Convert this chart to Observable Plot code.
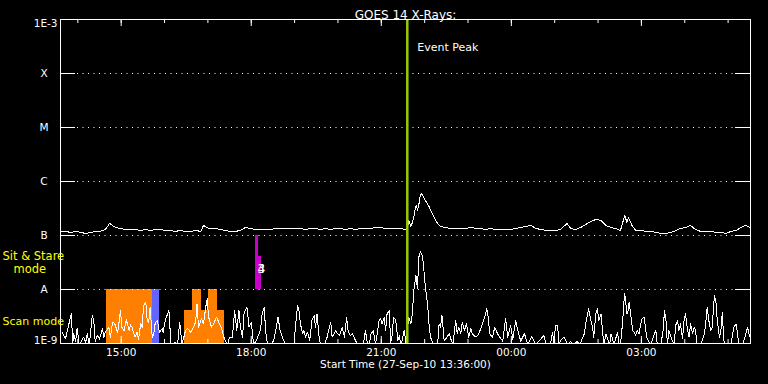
<!DOCTYPE html>
<html><head><meta charset="utf-8">
<script src="https://cdn.jsdelivr.net/npm/d3@7"></script>
<script src="https://cdn.jsdelivr.net/npm/@observablehq/plot@0.6"></script>
<style>
html,body{margin:0;padding:0;background:#000;overflow:hidden;}
#chart svg{display:block;}
</style></head><body><div id="chart"></div>
<script>
// ---------------- data ----------------
const titleText = "GOES 14 X-Rays:";
const xLabelText = "Start Time (27-Sep-10 13:36:00)";
const startTime = "2010-09-27T13:36:00Z";
const endTime = "2010-09-28T05:31:00Z";
const eventPeakTime = "2010-09-27T21:36:00Z";

// x ticks
const xTickTimes = ["2010-09-27T15:00:00Z","2010-09-27T18:00:00Z","2010-09-27T21:00:00Z","2010-09-28T00:00:00Z","2010-09-28T03:00:00Z"];
const xTickLabels = ["15:00","18:00","21:00","00:00","03:00"];

// y ticks (W/m^2)
const yDecades = [1e-9,1e-8,1e-7,1e-6,1e-5,1e-4,1e-3];
const yClassValues = [1e-8,1e-7,1e-6,1e-5,1e-4];
const yClassLabels = ["A","B","C","M","X"];
const yTopLabel = "1E-3";
const yBottomLabel = "1E-9";

// long channel (1-8 A), minutes after start, flux in units of 1e-7 W/m^2
const longMin = [0,7,14,21,28,35,42,48,55,62,68,76,83,90,97,104,111,118,125,132,138,145,152,159,166,173,180,187,194,198,205,215,222,228,235,242,249,256,263,270,277,284,291,298,305,312,318,325,332,339,346,353,360,367,374,381,388,395,402,408,415,422,429,436,443,450,457,464,471,478,480,482,485,487,490,491,493,494,496,498,500,503,505,510,514,518,522,526,533,540,547,554,561,568,575,582,588,595,602,609,616,623,630,637,644,651,658,665,672,678,685,692,701,706,713,720,727,734,741,748,755,762,768,775,781,784,786,791,796,803,810,817,824,831,838,845,852,858,865,872,879,886,893,900,907,914,921,928,935,942,948,955];
const longFlux = [1.19,1.19,1.14,1.19,1.14,1.09,1.14,1.19,1.19,1.29,1.67,1.41,1.35,1.29,1.29,1.29,1.24,1.29,1.24,1.29,1.29,1.24,1.24,1.19,1.24,1.19,1.19,1.24,1.19,1.53,1.35,1.35,1.29,1.24,1.19,1.19,1.24,1.41,1.35,1.29,1.29,1.29,1.29,1.35,1.35,1.35,1.35,1.35,1.35,1.29,1.35,1.35,1.29,1.35,1.29,1.35,1.35,1.29,1.35,1.29,1.35,1.35,1.35,1.41,1.41,1.35,1.35,1.35,1.35,1.29,1.35,1.90,1.47,1.74,2.45,3.30,3.59,2.90,3.75,5.51,6.00,5.06,4.45,3.44,2.67,2.06,1.67,1.47,1.41,1.35,1.35,1.35,1.35,1.41,1.35,1.35,1.29,1.35,1.29,1.29,1.29,1.29,1.35,1.41,1.47,1.53,1.35,1.29,1.24,1.24,1.24,1.29,1.67,1.35,1.29,1.41,1.60,1.82,1.98,1.90,1.53,1.41,1.35,1.24,2.35,1.74,2.15,1.53,1.24,1.24,1.19,1.19,1.14,1.09,1.09,1.14,1.24,1.35,1.41,1.53,1.29,1.19,1.19,1.19,1.14,1.14,1.09,1.19,1.24,1.41,1.53,1.41];

// short channel (0.5-4 A), minutes after start, flux in units of 1e-9 W/m^2
const shortMin = [2,7,15,17,18,21,23,26,32,35,37,40,44,46,48,51,54,58,60,62,67,69,72,75,79,80,83,85,88,91,95,97,99,103,106,108,111,113,115,118,120,122,124,127,129,131,134,137,141,142,145,149,150,153,155,159,162,165,168,170,173,176,180,184,187,189,191,195,198,201,203,205,209,212,216,219,223,226,231,234,238,241,244,247,249,252,254,258,261,264,267,270,275,277,279,282,284,286,291,295,298,301,304,307,312,318,323,328,330,332,335,337,339,342,345,348,351,353,355,358,360,365,369,374,376,381,383,386,390,393,396,398,401,404,407,411,415,419,422,425,427,430,433,436,441,443,445,448,450,452,455,457,459,461,464,467,469,471,473,475,476,478,482,485,487,489,492,494,496,498,501,503,505,508,510,512,514,516,522,524,526,528,531,535,538,540,543,547,549,551,554,556,559,562,565,568,570,575,579,584,587,590,592,594,598,601,605,608,612,616,619,623,626,630,633,637,642,647,652,658,662,669,672,678,681,683,685,688,690,692,697,699,702,706,710,715,719,722,725,727,729,731,734,736,738,741,743,745,748,750,752,755,757,760,762,764,766,771,773,775,778,780,781,784,786,787,789,792,794,796,798,801,803,805,808,810,812,817,822,824,826,831,834,836,838,840,842,845,849,852,854,856,858,861,863,865,868,870,872,875,877,879,881,886,891,893,895,898,900,902,905,907,909,912,914,916,918,921,928,930,932,935,937,939,944,948,951,953,955];
const shortFlux = [1.62,1.24,3.6,0.95,1.53,1.1,1.9,0.95,1.31,1.05,1.53,0.95,3.3,2.67,1.1,1.41,1.2,1.9,1.3,1.62,2.0,1.3,2.48,2.34,1.62,1.9,4.08,2.0,1.74,2.78,1.74,2.2,2.0,1.31,1.62,1.2,2.34,2.0,5.06,5.83,2.67,2.4,4.7,1.31,1.5,2.34,2.67,1.62,1.9,1.6,2.67,3.8,4.08,0.95,0.95,1.05,0.95,2.48,1.0,1.2,1.74,1.9,1.62,2.0,2.48,5.43,2.0,2.86,2.34,4.7,6.71,3.07,2.0,2.34,3.07,2.48,1.9,1.31,0.95,1.31,1.31,4.08,1.74,4.08,1.98,1.31,3.6,4.7,2.0,2.48,1.05,1.05,1.53,1.9,3.55,4.7,1.62,1.05,0.95,1.14,1.74,3.07,1.74,1.31,0.95,0.95,0.95,5.06,4.08,2.34,1.53,1.74,1.31,1.62,1.14,2.67,3.3,2.0,3.55,1.31,0.95,0.95,1.31,2.48,1.31,1.74,1.53,1.41,2.0,1.31,3.07,1.74,1.41,1.53,1.24,0.95,0.95,0.95,1.74,0.95,0.95,1.53,1.74,0.95,2.67,2.86,2.34,3.07,1.74,3.55,4.08,1.05,1.41,3.07,2.67,1.14,1.41,0.95,1.14,1.62,1.74,0.95,3.07,2.34,3.55,9.58,18.1,10.3,39.7,50.6,42.4,22.5,11.0,5.43,2.32,1.31,1.14,0.95,0.95,2.32,2.0,3.3,1.14,1.31,1.53,1.24,0.95,2.67,1.53,2.0,1.53,2.48,1.74,2.32,1.31,1.87,1.51,1.31,1.51,2.32,3.07,4.38,3.07,1.51,1.31,2.0,1.51,1.31,1.1,2.9,1.3,2.15,1.2,2.67,1.74,1.1,1.53,0.95,1.35,0.95,1.1,1.41,0.95,0.95,1.62,0.95,2.15,2.15,0.95,1.14,1.31,1.14,0.95,1.09,0.95,1.1,0.95,1.22,1.51,2.32,3.3,4.38,2.67,2.15,1.31,3.55,4.38,2.67,3.55,1.87,0.95,1.51,1.22,0.95,1.51,1.22,0.95,1.62,0.95,0.95,2.48,6.26,8.32,3.55,4.08,5.83,3.55,1.74,1.62,1.41,1.74,1.51,2.32,2.86,3.07,1.74,1.22,0.95,1.51,1.74,0.95,0.95,1.74,4.08,2.67,0.95,1.74,1.31,0.95,2.32,2.67,1.74,2.32,1.22,2.67,3.55,1.74,1.31,2.32,1.51,2.0,1.74,0.95,0.95,1.51,2.32,4.7,2.32,1.74,2.0,7.74,6.26,2.67,1.31,1.74,3.8,1.14,0.95,0.95,1.41,2.0,2.32,1.51,0.95,0.95,1.41,2.0,1.51,1.22];

// instrument mode intervals
const modeStart = ["2010-09-27T14:40Z","2010-09-27T15:43Z","2010-09-27T16:28Z","2010-09-27T16:39Z","2010-09-27T17:01Z","2010-09-27T18:06Z","2010-09-27T18:10Z"];
const modeEnd   = ["2010-09-27T15:43Z","2010-09-27T15:53Z","2010-09-27T17:23Z","2010-09-27T16:51Z","2010-09-27T17:13Z","2010-09-27T18:10Z","2010-09-27T18:14Z"];
const modeLow   = [1e-9,1e-9,1e-9,1e-9,1e-9,1e-8,1e-8];
const modeHigh  = [1e-8,1e-8,4.1e-9,1e-8,1e-8,1e-7,4.1e-8];
const modeKind  = ["scan","scan-b","scan","scan","scan","sit","sit"];
const modeKinds = ["scan","scan-b","sit"];
const modeTagTime = "2010-09-27T18:14Z";
const modeTags = ["4","3"];

// ---------------- build ----------------
const START = Date.parse(startTime);
const at = m => new Date(START + m * 60000);
const longData = longMin.map((m, i) => ({t: at(m), v: longFlux[i] * 1e-7}));
const shortData = shortMin.map((m, i) => ({t: at(m), v: shortFlux[i] * 1e-9}));
const modes = modeStart.map((s, i) => ({x1: new Date(s), x2: new Date(modeEnd[i]), y1: modeLow[i], y2: modeHigh[i], kind: modeKind[i]}));
const xTicks = xTickTimes.map((d, i) => ({t: new Date(d), label: xTickLabels[i]}));
const hourTicks = d3.utcHour.range(new Date(startTime), new Date(endTime));
const yClass = yClassValues.map((v, i) => ({v, label: yClassLabels[i]}));

const W = 768, H = 384, mL = 60, mR = 18, mT = 19, mB = 41;
const pw = W - mL - mR, ph = H - mT - mB;
const FONT = "DejaVu Sans, sans-serif";

const chart = Plot.plot({
  width: W, height: H,
  marginLeft: mL, marginRight: mR, marginTop: mT, marginBottom: mB,
  style: {background: "#000", color: "#fff", fontFamily: FONT, overflow: "visible"},
  x: {type: "utc", domain: [new Date(startTime), new Date(endTime)], axis: null},
  y: {type: "log", domain: [1e-9, 1e-3], axis: null},
  color: {type: "ordinal", domain: modeKinds, range: ["#ff8000", "#6464ff", "#cc00cc"]},
  marks: [
    Plot.rect(modes, {x1: "x1", x2: "x2", y1: "y1", y2: "y2", fill: "kind", shapeRendering: "crispEdges"}),
    // dotted grid
    Plot.ruleY(yClassValues, {stroke: "#fff", strokeDasharray: "1,4.5", insetLeft: 17, insetRight: 15}),
    // inward y ticks
    Plot.ruleY(yClassValues, {stroke: "#fff", insetRight: pw - 15}),
    Plot.ruleY(yClassValues, {stroke: "#fff", insetLeft: pw - 15}),
    // x ticks top & bottom
    Plot.ruleX(hourTicks, {stroke: "#fff", insetBottom: ph - 4}),
    Plot.ruleX(hourTicks, {stroke: "#fff", insetTop: ph - 4}),
    Plot.ruleX(xTicks, {x: "t", stroke: "#fff", insetBottom: ph - 7}),
    Plot.ruleX(xTicks, {x: "t", stroke: "#fff", insetTop: ph - 7}),
    // data
    Plot.line(shortData, {x: "t", y: "v", stroke: "#fff", strokeWidth: 1, clip: true, shapeRendering: "crispEdges"}),
    Plot.line(longData, {x: "t", y: "v", stroke: "#fff", strokeWidth: 1, clip: true, shapeRendering: "crispEdges"}),
    Plot.ruleX([new Date(eventPeakTime)], {stroke: "#99cc00", strokeWidth: 2.5}),
    Plot.text([new Date(eventPeakTime)], {x: d => d, text: () => "Event Peak", frameAnchor: "top", textAnchor: "start", dx: 10, dy: 23.5, fontSize: 11}),
    Plot.text(modeTags, {x: () => new Date(modeTagTime), text: d => d, frameAnchor: "bottom", dy: -71, fontSize: 12}),
    // frame
    Plot.frame({stroke: "#fff"}),
    // y labels
    Plot.text(yClass, {y: "v", text: "label", frameAnchor: "left", dx: -16.5, textAnchor: "middle", fontSize: 10.5}),
    Plot.text([yTopLabel], {text: d => d, frameAnchor: "top-left", dx: -3, dy: 0, textAnchor: "end", lineAnchor: "top", fontSize: 10.5}),
    Plot.text([yBottomLabel], {text: d => d, frameAnchor: "bottom-left", dx: -3, dy: 0, textAnchor: "end", lineAnchor: "bottom", fontSize: 10.5}),
    // x labels
    Plot.text(xTicks, {x: "t", text: "label", frameAnchor: "bottom", dy: 12, fontSize: 10.5}),
    Plot.text([xLabelText], {text: d => d, frameAnchor: "bottom", dy: 24.5, fontSize: 10.5}),
    Plot.text([titleText], {text: d => d, frameAnchor: "top", dy: -9.5, fontSize: 12}),
    // mode labels
    Plot.text(["Sit & Stare"], {text: d => d, frameAnchor: "bottom-left", dx: -58, dy: -84, textAnchor: "start", fill: "#ffff00", fontSize: 11.5}),
    Plot.text(["mode"], {text: d => d, frameAnchor: "bottom-left", dx: -47, dy: -71, textAnchor: "start", fill: "#ffff00", fontSize: 11.5}),
    Plot.text(["Scan mode"], {text: d => d, frameAnchor: "bottom-left", dx: -58, dy: -19, textAnchor: "start", fill: "#ffff00", fontSize: 11})
  ]
});
document.getElementById("chart").appendChild(chart);
</script>
</body></html>
